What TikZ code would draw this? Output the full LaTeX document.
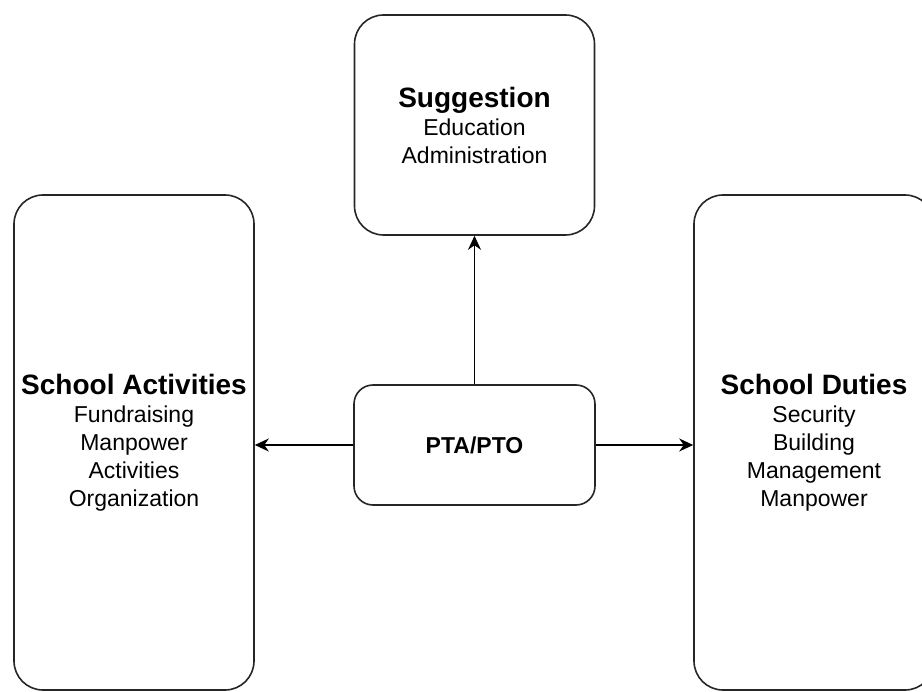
\documentclass[tikz,border=0pt]{standalone}
\usepackage{fontspec}
\setmainfont{Liberation Sans}
\usetikzlibrary{arrows.meta}
\begin{document}
\begin{tikzpicture}[x=1pt,y=-1pt,
  box/.style={draw=black!85, line width=1.6pt, fill=white, rounded corners=#1,
    inner sep=0pt, align=center, font=\fontsize{23}{28}\selectfont},
  box/.default=29pt,
  link/.style={draw=black, line width=1.6pt,
    -{Stealth[length=14pt,width=13pt,inset=4.5pt]}}]
\clip (0,0) rectangle (922,692);
\fill[white] (0,0) rectangle (922,692);
% side panels and the suggestion box
\node[box, minimum width=240pt, minimum height=220pt] (sugg) at (474.5,125)
  {\textbf{\fontsize{28}{28}\selectfont Suggestion}\\Education\\Administration};
\node[box, minimum width=240pt, minimum height=495pt] (act) at (134,442.5)
  {\textbf{\fontsize{28}{28}\selectfont School Activities}\\Fundraising\\Manpower\\Activities\\Organization};
\node[box, minimum width=240pt, minimum height=495pt] (duty) at (814,442.5)
  {\textbf{\fontsize{28}{28}\selectfont School Duties}\\Security\\Building\\Management\\Manpower};
% central organisation
\node[box=19pt, minimum width=241pt, minimum height=120pt,
  font=\fontsize{23}{28}\selectfont\bfseries] (pta) at (474.5,445) {PTA/PTO};
% connectors
\draw[link] (pta.north) -- (pta.north |- sugg.south);
\draw[link] (pta.west) -- (pta.west -| act.east);
\draw[link] (pta.east) -- (pta.east -| duty.west);
\end{tikzpicture}
\end{document}
